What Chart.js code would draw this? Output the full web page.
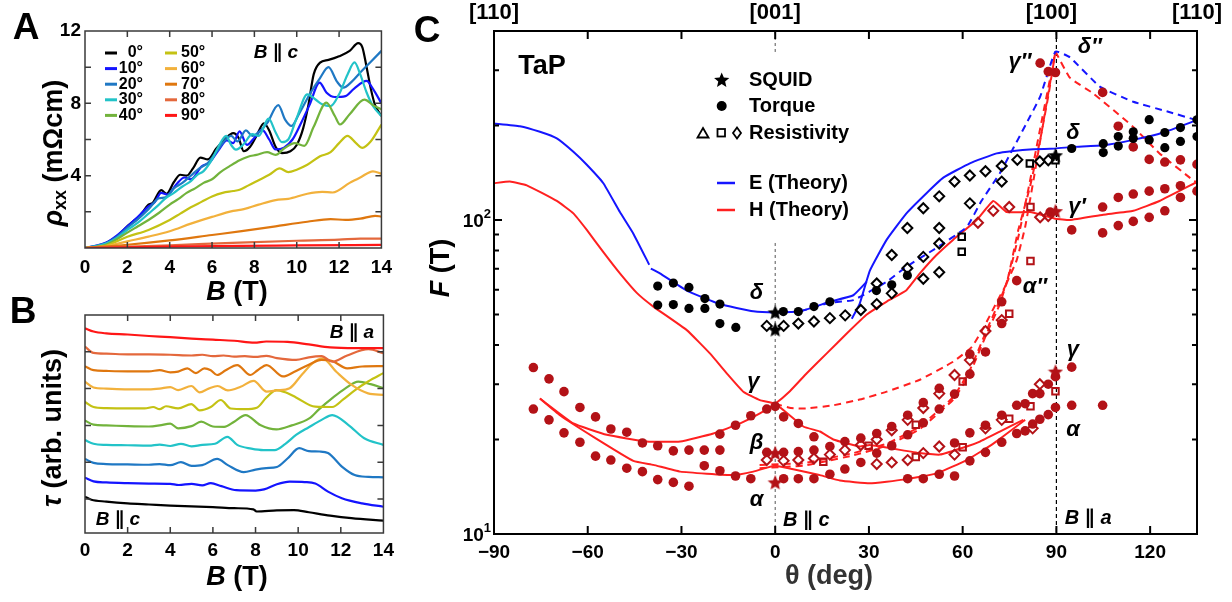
<!DOCTYPE html>
<html>
<head>
<meta charset="utf-8">
<script src="https://cdn.jsdelivr.net/npm/chart.js@4.4.1/dist/chart.umd.min.js"></script>
<style>
  body { margin: 0; background: #fff; width: 1232px; height: 602px; overflow: hidden; position: relative; }
  canvas { position: absolute; }
</style>
</head>
<body>
<canvas id="cA" width="400" height="312" style="left:0;top:0"></canvas>
<canvas id="cB" width="400" height="312" style="left:0;top:290px"></canvas>
<canvas id="cC" width="832" height="602" style="left:400px;top:0"></canvas>
<script>
const FONT = "'Liberation Sans', Arial, 'DejaVu Sans', sans-serif";

// ---------- Panel A : rho_xx (mOhm cm) vs B (T), pairs [B, rho] ----------
const angleLabels = ['0°', '10°', '20°', '30°', '40°', '50°', '60°', '70°', '80°', '90°'];
const angleColours = ['#000000', '#1414ff', '#1f78c4', '#22c3c8', '#72b33c', '#c4c214', '#f2b13c', '#df770f', '#e4683c', '#ff1616'];

const rho0 = [[0,0],[0.5,0.07],[1,0.28],[1.5,0.65],[2,1.2],[2.3,1.5],[2.5,1.65],[2.7,1.95],[3,2.4],[3.2,2.5],[3.6,3.2],[3.85,3.0],[4.2,3.65],[4.5,4.05],[4.8,4.0],[5.1,4.4],[5.45,5.0],[5.8,4.9],[6.2,5.5],[6.6,6.0],[7,6.35],[7.25,6.1],[7.5,5.35],[7.8,5.6],[8.1,6.2],[8.45,6.9],[8.7,6.5],[9,5.6],[9.3,5.25],[9.7,5.35],[10,5.7],[10.3,6.6],[10.55,7.9],[10.8,9.6],[11.1,10.25],[11.5,10.4],[12,10.6],[12.5,10.9],[12.9,11.33],[13.1,11.1],[13.3,10.0],[13.5,8.8],[13.7,7.9],[14,7.3]];
const rho10 = [[0,0],[1,0.3],[1.5,0.68],[2,1.2],[2.5,1.72],[3,2.3],[3.3,2.55],[3.6,3.05],[3.9,2.95],[4.3,3.5],[4.7,3.9],[5,3.8],[5.5,4.5],[5.9,4.75],[6.3,5.4],[6.7,5.95],[7,5.8],[7.3,6.45],[7.65,5.7],[8,6.1],[8.36,6.55],[8.7,6.0],[9,5.45],[9.4,5.55],[9.8,6.0],[10.2,6.9],[10.6,7.9],[11.08,9.15],[11.4,8.6],[11.8,8.35],[12.3,8.4],[12.7,8.8],[13.3,9.24],[13.6,8.8],[14,8.0]];
const rho20 = [[0,0],[1,0.28],[1.5,0.62],[2,1.12],[2.5,1.6],[3,2.15],[3.5,2.75],[3.8,2.8],[4.2,3.3],[4.6,3.6],[5,4.0],[5.4,4.4],[5.8,4.7],[6.2,5.3],[6.6,5.95],[6.9,6.2],[7.2,5.9],[7.6,6.5],[7.9,6.2],[8.3,6.5],[8.6,6.9],[9.13,7.9],[9.45,7.1],[9.75,6.75],[10.1,7.4],[10.66,8.6],[11.1,9.4],[11.5,10.0],[11.9,9.2],[12.2,8.87],[12.6,9.2],[13,9.7],[13.5,10.3],[14,10.9]];
const rho30 = [[0,0],[1,0.25],[1.5,0.55],[2,1.0],[2.5,1.4],[3,1.9],[3.4,2.3],[3.8,2.75],[4.2,3.05],[4.6,3.4],[5,3.7],[5.3,4.05],[5.6,4.25],[6,4.9],[6.3,5.6],[6.67,6.2],[6.9,5.7],[7.13,5.44],[7.5,5.75],[7.9,6.3],[8.2,6.2],[8.67,7.15],[9,6.4],[9.3,5.85],[9.6,6.0],[10,7.2],[10.5,8.5],[10.9,8.2],[11.2,7.95],[11.6,7.85],[12,8.5],[12.4,9.6],[12.73,10.26],[13,9.6],[13.3,8.6],[13.6,7.85],[14,7.3]];
const rho40 = [[0,0],[1,0.18],[2,0.85],[2.5,1.2],[3,1.55],[3.5,1.95],[4,2.4],[4.4,2.7],[4.8,3.05],[5.2,3.3],[5.6,3.6],[6,3.8],[6.4,4.2],[6.8,4.5],[7.3,4.85],[7.7,5.05],[8.1,5.15],[8.6,5.3],[9,5.15],[9.4,5.5],[9.9,5.8],[10.36,5.65],[10.8,6.7],[11.4,8.04],[11.8,7.3],[12.04,6.83],[12.5,7.4],[13.2,8.2],[13.6,7.9],[14,7.67]];
const rho50 = [[0,0],[1,0.13],[2,0.62],[3,1.0],[4,1.55],[4.5,1.9],[5,2.25],[5.5,2.55],[6,2.85],[6.5,3.05],[7,3.15],[7.3,3.22],[7.7,3.45],[8.2,3.75],[8.7,4.05],[9.2,4.4],[9.6,4.2],[10,4.33],[10.5,4.6],[11.1,5.07],[11.6,5.3],[12,5.8],[12.4,6.2],[12.8,5.8],[13.1,5.54],[13.5,5.9],[14,6.83]];
const rho60 = [[0,0],[1,0.1],[2,0.37],[3,0.63],[4,0.93],[5,1.35],[6,1.72],[7,2.05],[7.5,2.15],[8.2,2.4],[9,2.65],[9.6,2.72],[10.5,3.0],[11.2,3.1],[11.7,3.07],[12.5,3.6],[13,3.9],[13.6,4.24],[14,4.1]];
const rho70 = [[0,0],[2,0.18],[4,0.42],[6,0.72],[7.4,0.93],[9,1.2],[10.5,1.45],[11.6,1.6],[12.3,1.55],[13,1.62],[13.7,1.78],[14,1.74]];
const rho80 = [[0,0],[4,0.15],[7.3,0.3],[10,0.4],[12,0.46],[13,0.52],[14,0.52]];
const rho90 = [[0,0],[4,0.08],[7.3,0.12],[10,0.14],[14,0.17]];
const rhoCurves = [rho0, rho10, rho20, rho30, rho40, rho50, rho60, rho70, rho80, rho90];

// ---------- Panel B : torque (offset, arb. units) vs B (T), pairs [B, tau] ----------
const tau0 = [[0,0.06],[0.3,-0.02],[1,-0.07],[2,-0.12],[3,-0.15],[4,-0.18],[5,-0.2],[6,-0.22],[7,-0.25],[7.9,-0.28],[8.05,-0.34],[9,-0.31],[9.8,-0.3],[10.5,-0.36],[11.5,-0.45],[12.5,-0.52],[14,-0.59]];
const tau10 = [[0,0.58],[0.4,0.48],[1,0.45],[2,0.43],[3,0.42],[4,0.41],[4.4,0.38],[5,0.41],[5.5,0.37],[5.9,0.43],[6.4,0.35],[7.1,0.24],[8,0.23],[8.4,0.26],[9,0.4],[9.6,0.47],[10.3,0.46],[10.8,0.42],[11.4,0.2],[12.05,0.02],[13,-0.12],[14,-0.21]];
const tau20 = [[0,1.09],[0.4,0.98],[1,0.95],[2,0.94],[3,0.93],[3.5,0.95],[4,0.92],[4.5,1.0],[5,0.9],[5.5,0.92],[6.2,1.09],[6.7,0.92],[7.45,0.73],[8,0.8],[8.5,0.84],[9,0.87],[9.5,1.1],[10.05,1.38],[10.5,1.3],[11,1.29],[11.4,1.25],[12.05,0.88],[12.65,0.65],[13.3,0.6],[14,0.59]];
const tau30 = [[0,1.6],[0.4,1.5],[1,1.47],[2,1.46],[3,1.45],[3.5,1.48],[4,1.44],[4.5,1.5],[5,1.43],[5.5,1.47],[6.1,1.5],[6.68,1.69],[7.14,1.47],[7.8,1.37],[8.37,1.33],[8.9,1.33],[9.4,1.5],[9.9,1.74],[10.5,1.95],[11.1,2.15],[11.6,2.28],[12.36,2.01],[13.1,1.65],[14,1.47]];
const tau40 = [[0,2.13],[0.4,2.02],[1,2.0],[2,1.98],[3,1.97],[3.5,2.0],[4,2.05],[4.37,1.92],[5,1.98],[5.45,2.1],[6,1.97],[6.53,1.96],[7,2.1],[7.53,2.28],[8.22,2.01],[8.98,1.89],[9.7,2.0],[10.52,2.19],[11,2.45],[11.6,2.74],[12.2,3.0],[12.82,3.19],[13.4,3.12],[14,3.01]];
const tau50 = [[0,2.64],[0.4,2.5],[1,2.47],[2,2.46],[2.8,2.46],[3.2,2.5],[3.5,2.44],[3.8,2.52],[4.37,2.46],[4.99,2.58],[5.38,2.41],[5.9,2.5],[6.37,2.69],[6.83,2.46],[7.5,2.44],[8.06,2.48],[8.5,2.75],[8.98,2.96],[9.4,2.9],[9.9,2.76],[10.8,2.51],[11.6,2.5],[12.1,2.7],[12.67,2.96],[13.3,3.2],[14,3.42]];
const tau60 = [[0,3.19],[0.4,3.03],[1,3.0],[2,2.98],[3,2.98],[3.5,3.0],[4,3.04],[4.37,2.96],[4.99,3.07],[5.38,2.9],[5.8,3.0],[6.22,3.07],[6.7,2.95],[7.3,3.05],[7.91,3.21],[8.52,2.92],[9,2.95],[9.6,3.01],[10.2,3.4],[10.7,3.7],[11.13,3.82],[11.8,3.45],[12.51,3.1],[13.28,2.87],[14,2.83]];
const tau70 = [[0,3.61],[0.4,3.5],[1,3.48],[2,3.47],[3,3.47],[3.5,3.5],[4,3.44],[4.37,3.46],[4.8,3.55],[5.2,3.42],[5.6,3.55],[5.9,3.5],[6.2,3.37],[6.6,3.5],[7.14,3.64],[7.75,3.37],[8.1,3.5],[8.52,3.64],[9.29,3.33],[9.8,3.45],[10.5,3.65],[11.1,3.78],[11.6,3.75],[12.3,3.55],[13,3.6],[14,3.61]];
const tau80 = [[0,4.14],[0.4,3.97],[1,3.95],[2,3.93],[3,3.93],[4,3.92],[5,3.9],[5.5,3.92],[6,3.88],[6.5,3.9],[7,3.87],[7.5,3.88],[8,3.86],[8.5,3.89],[9,3.83],[9.9,3.78],[10.5,3.85],[11.1,3.88],[11.6,3.73],[12.3,3.9],[13.3,4.07],[14,3.96]];
const tau90 = [[0,4.64],[0.4,4.55],[1,4.5],[2,4.47],[3,4.43],[4,4.4],[5,4.36],[6,4.33],[7,4.3],[7.95,4.25],[8.5,4.28],[9.5,4.27],[10.5,4.2],[11.5,4.12],[12.7,4.1],[14,4.1]];
const tauCurves = [tau0, tau10, tau20, tau30, tau40, tau50, tau60, tau70, tau80, tau90];

// ---------- Panel C : F (T) vs theta (deg), pairs [theta, F] ----------
const eTheoryA = [[-90,203],[-81.7,199],[-75.3,191],[-69.9,182],[-64.6,165],[-60.3,150],[-55,131],[-49.7,106],[-45.4,90.5],[-40.3,72]];
const eTheoryB = [[-39.8,70],[-36.9,67.6],[-28.3,59.6],[-17.7,54],[-7,51.2],[0,50.8],[8,51.2],[17.5,54.9],[25,57.6],[29.3,63.6]];
const eTheoryC = [[24.5,48.5],[27,54],[30.3,69],[35.7,86.6],[42,105],[48.5,122],[53.8,136.5],[62.3,151.6],[70.9,163],[76.2,166],[82.6,168],[89.7,169],[95.4,171],[105,173],[114.6,180],[124.2,190],[134.9,208]];
const eTheoryDash = [[8,51.2],[17.5,54.5],[25,55.6],[35.7,63.6],[42,71],[51.7,81.6],[61.3,95],[66,115],[71.9,141],[80.5,204],[84.8,247],[89.7,344],[94.3,330],[103.9,266],[114.6,238],[125.3,222],[134.9,208]];
const hTheoryA = [[-90,131],[-84.9,132.6],[-79.5,129],[-69.9,115],[-64.6,105],[-60.3,93],[-55,79],[-49.7,67.6],[-44.3,58.6],[-39,53],[-28.3,44.6],[-20.9,37.6],[-15.5,32.5],[-10.2,28.4],[-4.9,26.7],[0,26],[9,22],[14.3,21.2],[18.6,20],[27,19],[30.3,19.2],[46.3,18.1],[52.7,17.9],[61.3,19],[65.5,19.7],[71.9,21.2],[79.4,23.1]];
const hTheoryB = [[-75.3,27],[-64.6,22.5],[-53.9,20.7],[-41.1,19.7],[-30.4,19.7],[-19.8,20.9],[-11.2,22.5],[-4.9,24.2],[0,26],[4.7,28.5],[10.1,32.5],[16.5,37.6],[22.9,43.5],[29.3,50],[35.7,55],[42,59.8],[46.3,67.6],[51.7,77.5],[57,86.6],[64.5,100],[69.8,115],[74.1,106],[81.5,106],[89.7,101],[94.3,100],[105,104],[114.6,107],[123,115],[134.9,132]];
const hTheoryC = [[-75.3,27],[-68.9,23.9],[-58.2,20.4],[-45.4,17.1],[-39,16.6],[-30.4,15.8],[-13.4,15.4],[-7,15.8],[0,16.5],[14.3,15.4],[20.7,14.8],[30.3,14.5],[41,14.9],[51.7,15.6],[61.3,17.2],[69.8,19.4],[80,23.1]];
const hTheoryDash1 = [[0,26],[5,25.2],[10,25.1],[18.6,25.7],[27,26.8],[35.7,28.4],[46.3,31],[57,35.4],[63,39.5],[67,46],[71,55],[74.1,63],[77.8,93],[81.5,127],[84.8,180],[87.4,248],[89.7,344]];
const hTheoryDash2 = [[-5,16.6],[9,16.8],[14.3,17.2],[25,18.1],[35.7,19.4],[46.3,22],[57,27.3],[62.3,33.3],[67.7,44.6],[71.9,55.6],[74.1,63],[77.3,74.5],[80,95],[83,140],[86,210],[89.7,344]];
const hTheoryDash3 = [[-5,16.2],[9,16.5],[14.3,16.9],[25,17.8],[35.7,19.1],[46.3,21.6],[57,26.8],[62.3,32.5],[67.7,43.5],[71.9,54],[75,68],[78,90],[81,125],[85,200],[89.7,344]];
const hTheoryDashR = [[89.7,344],[94.3,284],[101.8,253],[114.6,198],[123,163],[133.7,134],[134.9,132]];

const squidBlack = [[0,50.8],[0,44.8],[89.7,160.8]];
const squidRed = [[0,18.1],[0,14.6],[89.7,106.7],[89.7,32.9]];
const torqueBlack = [[-37.6,61.6],[-32.6,63],[-27.6,61],[-22.5,56.2],[-17.7,54],[-37.6,53.6],[-32.6,53.8],[-27.6,52.3],[-22.5,52.3],[-17.7,46.8],[-12.6,45.5],[2.6,51.1],[7.4,51.1],[12.4,53],[17.5,54.9],[32.4,59.6],[37.3,62.2],[42.3,66.6],[94.9,169],[105,175],[105,164],[109.8,184.5],[109.8,172],[114.6,191],[114.6,182],[119.7,208.7],[119.7,180],[124.7,190],[124.7,170],[129.7,197],[129.7,178],[135,208.6],[135,184.5]];
const torqueRed = [[-77.4,33.9],[-72.4,31.2],[-67.6,28.4],[-62.5,25.3],[-57.5,23.6],[-52.6,21.6],[-47.5,21.1],[-42.5,19.5],[-37.6,19.1],[-32.6,18.4],[-27.6,18.5],[-22.7,18.5],[-17.7,18.5],[-17.7,20.8],[-12.7,22.2],[-7.8,23.8],[-2.7,25],[0,25.5],
  [-77.4,25],[-72.4,23.1],[-67.6,21],[-62.5,19.6],[-57.5,17.7],[-52.6,17.2],[-47.5,16.2],[-42.5,15.8],[-37.6,14.9],[-32.6,14.6],[-27.6,14.2],[-22.7,16.5],[-17.7,15.9],[-12.7,15.3],[-7.8,15],[2.7,15],[7.4,15],[12.4,15],
  [-2.7,18.2],[2.7,18.2],[7.4,18.3],[12.4,18.5],[2.7,23.6],[7.4,22.5],[12.4,20.4],
  [17.5,19],[17.5,15.5],[22.3,19.7],[22.3,16.1],[27.4,20.2],[27.4,16.9],[32.5,20.9],[32.5,18.1],[37.3,22],[37.3,19.1],[42.4,23.9],[42.4,20.7],[42.4,15],[47.4,26.2],[47.4,22.6],[47.4,15],[52.5,29.1],[52.5,25],[52.5,15.5],[57.4,27.9],[57.4,19.5],[57.4,15.3],[62.3,37.4],[62.3,32.3],[62.3,21],[62.3,17.1],[67.3,38],[67.3,22.2],[67.3,18.2],[72.5,46.8],[72.5,54.9],[72.5,23.9],[72.5,19.6],[77.3,25.7],[77.3,20.9],[77.3,64.1],[80,26],[80,21.3],[82.4,28],[82.4,22.4],[84.7,28],[84.7,23.2],[87.4,30],[87.4,24],[89.7,31.7],[89.7,25.3],[94.9,34],[94.9,25.7],[104.8,25.7],
  [84.8,316],[87.4,297],[89.7,295],[104.8,255],[109.8,199],[114.6,171],[119.7,156],[124.7,153],[129.7,155.5],[135,150.4],
  [94.9,93],[104.8,110],[104.8,91],[109.8,118],[109.8,96],[114.6,121],[114.6,99],[119.7,123.6],[119.7,102],[124.7,125.8],[124.7,107],[129.7,128.6],[129.7,118],[135,123.6],[88,106]];
const resistBlackDiamond = [[-2.7,46],[2.7,46],[7.4,46.8],[12.4,47.5],[17.5,48.7],[22.4,49.7],[27.4,51.7],[32.5,62.8],[32.5,54],[37.3,58.4],[37.3,77.4],[42.3,70.2],[42.3,94.3],[47.4,76.3],[47.4,65],[47.4,109],[52.5,94.3],[52.5,84.2],[52.5,68.2],[52.5,119],[57.4,132.6],[62.3,138.6],[62.3,113],[67.3,143],[72.5,148.6],[72.5,132.6],[77.5,155.5],[84.7,153.7],[87.4,155]];
const resistBlackSquare = [[81.5,151.5],[89.7,155],[59.7,88.4],[59.7,79.3]];
const resistRedDiamond = [[-2.7,17.2],[2.7,17.1],[7.4,17.2],[12.4,17.4],[17.5,17.9],[22.3,18.5],[27.4,19.2],[32.5,20],[37.3,21.4],[42.4,23.1],[47.4,25.2],[52.5,28],[57.4,32.1],[62.3,35.8],[67.3,44.3],[72.5,48],[32.5,16.7],[37.3,16.9],[42.4,17.2],[47.4,18.1],[52.5,19],[57.4,17.9],[67.3,21.7],[72.5,23.1],[82.4,21.7],[84.7,30],[64.9,98],[69.8,107],[74.9,110],[84.8,102],[87.4,103]];
const resistRedSquare = [[15.4,17],[29.9,19.1],[45,22.3],[45,17.6],[60,30.6],[60,18.9],[74.9,50.3],[74.9,23.3],[81.7,25.5],[81.7,74],[81.7,110],[89.7,28.5]];

const axisC = [400, 343, null, 84.5, 10];   // dashed [001] guide, broken behind legend
const axisA = [400, 10];                    // dashed [100] guide
const topDirs = ['[110]', '[001]', '[100]', '[110]'];
const topDirAngles = [-90, 0, 90, 135];
const branchNames = ['δ', 'γ', 'β', 'α', 'γ″', 'δ″', 'δ', 'γ′', 'α″', 'γ', 'α'];
const branchAngles = [-6, -7, -6, -6, 78.3, 100.7, 95.3, 96.6, 83.1, 95.3, 95.3];
const branchFreqs = [58.5, 30.5, 19.5, 12.8, 318, 355, 189, 110, 61.2, 38.5, 21.4];

// ---------- helpers ----------
const toPts = arr => arr.map(p => ({ x: p[0], y: p[1] }));
const f = (size, style = '') => `${style} bold ${size}px ${FONT}`.trim();

function rich(ctx, parts, x, y, align) {
  let w = 0;
  parts.forEach(p => { ctx.font = p.f; p.w = ctx.measureText(p.t).width; w += p.w; });
  let cx = align === 'center' ? x - w / 2 : align === 'right' ? x - w : x;
  ctx.textAlign = 'left';
  ctx.textBaseline = 'middle';
  parts.forEach(p => {
    ctx.font = p.f;
    ctx.fillStyle = p.c || '#000';
    ctx.fillText(p.t, cx, y + (p.dy || 0));
    cx += p.w;
  });
}

function rotated(ctx, x, y, fn) {
  ctx.save();
  ctx.translate(x, y);
  ctx.rotate(-Math.PI / 2);
  fn();
  ctx.restore();
}

// box plus inward ticks on all four sides
function frame(chart, o) {
  const { ctx, chartArea: a, scales } = chart;
  ctx.save();
  ctx.strokeStyle = o.color;
  ctx.lineWidth = o.lw;
  ctx.beginPath();
  o.x.forEach(v => {
    const p = scales.x.getPixelForValue(v);
    ctx.moveTo(p, a.bottom); ctx.lineTo(p, a.bottom - o.len);
    ctx.moveTo(p, a.top); ctx.lineTo(p, a.top + o.len);
  });
  o.y.forEach(v => {
    const p = scales.y.getPixelForValue(v);
    ctx.moveTo(a.left, p); ctx.lineTo(a.left + o.len, p);
    ctx.moveTo(a.right, p); ctx.lineTo(a.right - o.len, p);
  });
  (o.yMinor || []).forEach(v => {
    const p = scales.y.getPixelForValue(v);
    ctx.moveTo(a.left, p); ctx.lineTo(a.left + o.minor, p);
    ctx.moveTo(a.right, p); ctx.lineTo(a.right - o.minor, p);
  });
  ctx.stroke();
  ctx.strokeRect(a.left, a.top, a.right - a.left, a.bottom - a.top);
  ctx.restore();
}

function starPath(ctx, cx, cy, R) {
  ctx.beginPath();
  for (let i = 0; i < 10; i++) {
    const ang = -Math.PI / 2 + i * Math.PI / 5;
    const r = i % 2 ? R * 0.45 : R;
    ctx.lineTo(cx + r * Math.cos(ang), cy + r * Math.sin(ang));
  }
  ctx.closePath();
}

function starImg(colour) {
  const c = document.createElement('canvas');
  c.width = c.height = 16;
  const g = c.getContext('2d');
  g.fillStyle = colour;
  starPath(g, 8, 8.6, 8);
  g.fill();
  return c;
}

const tickFont = { family: FONT, size: 19, weight: 'bold' };
const baseOptions = (padding, xH, yW) => ({
  responsive: false,
  animation: false,
  events: [],
  layout: { padding },
  plugins: { legend: { display: false }, tooltip: { enabled: false } },
  scales: {
    x: {
      type: 'linear',
      afterFit: s => { s.height = xH; },
      grid: { display: false, drawTicks: false },
      border: { display: false },
      ticks: { color: '#000', font: tickFont, autoSkip: false, maxRotation: 0 }
    },
    y: {
      type: 'linear',
      afterFit: s => { s.width = yW; },
      grid: { display: false, drawTicks: false },
      border: { display: false },
      ticks: { color: '#000', font: tickFont }
    }
  }
});

const curveSet = curves => curves.map((c, i) => ({
  data: toPts(c),
  showLine: true,
  borderColor: angleColours[i],
  borderWidth: 2.2,
  pointRadius: 0,
  fill: false,
  cubicInterpolationMode: 'monotone'
})).reverse();

// ---------- Chart A ----------
const optA = baseOptions({ left: 0, top: 31, right: 11, bottom: 0 }, 64, 85);
Object.assign(optA.scales.x, { min: 0, max: 14 });
Object.assign(optA.scales.x.ticks, { stepSize: 2, padding: 8 });
Object.assign(optA.scales.y, { min: 0, max: 12 });
Object.assign(optA.scales.y.ticks, { stepSize: 4, padding: 4, callback: v => (v === 0 ? '' : v) });

new Chart(document.getElementById('cA'), {
  type: 'scatter',
  data: { datasets: curveSet(rhoCurves) },
  options: optA,
  plugins: [{
    id: 'decorA',
    afterDraw(chart) {
      const ctx = chart.ctx;
      frame(chart, { x: [2, 4, 6, 8, 10, 12], y: [2, 4, 6, 8, 10], len: 6, color: '#3a3a3a', lw: 1.5 });
      // legend, two columns
      angleLabels.forEach((lab, i) => {
        const col = i < 5 ? 0 : 1;
        const y = 53 + (i % 5) * 15.6;
        const x0 = col ? 165 : 105;
        ctx.strokeStyle = angleColours[i];
        ctx.lineWidth = 3;
        ctx.beginPath(); ctx.moveTo(x0, y); ctx.lineTo(x0 + 12, y); ctx.stroke();
        ctx.font = f(16); ctx.fillStyle = '#000'; ctx.textBaseline = 'middle';
        ctx.textAlign = col ? 'left' : 'right';
        ctx.fillText(lab, col ? 181 : 143, y);
      });
      rich(ctx, [{ t: 'B', f: f(19, 'italic') }, { t: ' \u2225 ', f: f(19) }, { t: 'c', f: f(19, 'italic') }], 276, 53, 'center');
      ctx.font = f(37); ctx.fillStyle = '#000'; ctx.textAlign = 'center'; ctx.textBaseline = 'middle';
      ctx.fillText('A', 26, 29);
      rich(ctx, [{ t: 'B', f: f(27, 'italic') }, { t: ' (T)', f: f(27) }], 237, 293, 'center');
      rotated(ctx, 55, 153, () => {
        rich(ctx, [{ t: 'ρ', f: f(27, 'italic') }, { t: 'xx', f: f(18), dy: 6 }, { t: ' (mΩcm)', f: f(27) }], 0, 0, 'center');
      });
    }
  }]
});

// ---------- Chart B ----------
const optB = baseOptions({ left: 0, top: 25, right: 11, bottom: 0 }, 69, 85);
Object.assign(optB.scales.x, { min: 0, max: 14 });
Object.assign(optB.scales.x.ticks, { stepSize: 2, padding: 6 });
Object.assign(optB.scales.y, { min: -0.924, max: 5 });
optB.scales.y.ticks.display = false;

new Chart(document.getElementById('cB'), {
  type: 'scatter',
  data: { datasets: curveSet(tauCurves) },
  options: optB,
  plugins: [{
    id: 'decorB',
    afterDraw(chart) {
      const ctx = chart.ctx;
      frame(chart, { x: [2, 4, 6, 8, 10, 12], y: [0, 1, 2, 3, 4], len: 6, color: '#3a3a3a', lw: 1.5 });
      rich(ctx, [{ t: 'B', f: f(19, 'italic') }, { t: ' \u2225 ', f: f(19) }, { t: 'a', f: f(19, 'italic') }], 352, 43, 'center');
      rich(ctx, [{ t: 'B', f: f(19, 'italic') }, { t: ' \u2225 ', f: f(19) }, { t: 'c', f: f(19, 'italic') }], 118, 230, 'center');
      ctx.font = f(37); ctx.fillStyle = '#000'; ctx.textAlign = 'center'; ctx.textBaseline = 'middle';
      ctx.fillText('B', 23, 23);
      rich(ctx, [{ t: 'B', f: f(27, 'italic') }, { t: ' (T)', f: f(27) }], 237, 288, 'center');
      rotated(ctx, 54, 138, () => {
        rich(ctx, [{ t: 'τ', f: f(27, 'italic') }, { t: ' (arb. units)', f: f(27) }], 0, 0, 'center');
      });
    }
  }]
});

// ---------- Chart C ----------
const DARKRED = '#b31217';
const BLUE = '#1515ff';
const RED = '#ff2020';
const lineDs = (data, colour, dash) => ({
  data: toPts(data), showLine: true, borderColor: colour, borderWidth: 2,
  borderDash: dash || [], pointRadius: 0, fill: false, tension: 0.12
});
const markDs = (data, colour, style, radius, open) => ({
  data: toPts(data), showLine: false, pointStyle: style, pointRadius: radius,
  backgroundColor: open ? 'rgba(255,255,255,0)' : colour, borderColor: colour,
  pointBackgroundColor: open ? 'rgba(255,255,255,0)' : colour, pointBorderColor: colour,
  pointBorderWidth: open ? 2 : 0, borderWidth: open ? 2 : 0
});

const optC = baseOptions({ left: 0, top: 31, right: 35, bottom: 0 }, 68, 94);
Object.assign(optC.scales.x, { min: -90, max: 135 });
Object.assign(optC.scales.x.ticks, { stepSize: 30, padding: 7, includeBounds: false,
  callback: v => (v === 135 ? '' : String(v).replace('-', '\u2212')) });
Object.assign(optC.scales.y, { type: 'logarithmic', min: 10, max: 400 });
optC.scales.y.ticks.display = false;

new Chart(document.getElementById('cC'), {
  type: 'scatter',
  data: {
    datasets: [
      markDs(squidBlack, '#000', starImg('#000'), 7, false),
      markDs(squidRed, DARKRED, starImg(DARKRED), 7, false),
      markDs(resistBlackDiamond, '#000', 'rectRot', 5, true),
      markDs(resistBlackSquare, '#000', 'rect', 4.6, true),
      markDs(resistRedDiamond, DARKRED, 'rectRot', 5, true),
      markDs(resistRedSquare, DARKRED, 'rect', 4.6, true),
      markDs(torqueBlack, '#000', 'circle', 4.6, false),
      markDs(torqueRed, DARKRED, 'circle', 4.8, false),
      lineDs(eTheoryA, BLUE),
      lineDs(eTheoryB, BLUE),
      lineDs(eTheoryC, BLUE),
      lineDs(eTheoryDash, BLUE, [7, 5]),
      lineDs(hTheoryA, RED),
      lineDs(hTheoryB, RED),
      lineDs(hTheoryC, RED),
      lineDs(hTheoryDash1, RED, [7, 5]),
      lineDs(hTheoryDash2, RED, [7, 5]),
      lineDs(hTheoryDash3, RED, [7, 5]),
      lineDs(hTheoryDashR, RED, [7, 5]),
      { data: axisC.map(v => ({ x: 0, y: v })), showLine: true, borderColor: '#555', borderWidth: 1,
        borderDash: [3, 3], pointRadius: 0, spanGaps: false },
      { data: axisA.map(v => ({ x: 90, y: v })), showLine: true, borderColor: '#000', borderWidth: 1.2,
        borderDash: [4, 3], pointRadius: 0 }
    ]
  },
  options: optC,
  plugins: [{
    id: 'decorC',
    afterDraw(chart) {
      const ctx = chart.ctx;
      const a = chart.chartArea, sx = chart.scales.x, sy = chart.scales.y;
      frame(chart, { x: [-60, -30, 0, 30, 60, 90, 120], y: [100], yMinor: [20, 30, 40, 50, 60, 70, 80, 90, 200, 300], len: 8, minor: 5, color: '#000', lw: 2 });
      // decade labels
      rich(ctx, [{ t: '10', f: f(19) }, { t: '2', f: f(13), dy: -8 }], a.left - 3, sy.getPixelForValue(100) + 2, 'right');
      rich(ctx, [{ t: '10', f: f(19) }, { t: '1', f: f(13), dy: -8 }], a.left - 3, sy.getPixelForValue(10) + 2, 'right');
      // crystal directions on top
      ctx.fillStyle = '#000'; ctx.textAlign = 'center'; ctx.textBaseline = 'middle'; ctx.font = f(22);
      topDirs.forEach((t, i) => ctx.fillText(t, sx.getPixelForValue(topDirAngles[i]) - (i === 2 ? 5 : 0), 13));
      // branch labels
      ctx.font = f(22, 'italic');
      branchNames.forEach((t, i) => ctx.fillText(t, sx.getPixelForValue(branchAngles[i]), sy.getPixelForValue(branchFreqs[i])));
      rich(ctx, [{ t: 'B', f: f(20, 'italic') }, { t: ' \u2225 ', f: f(20) }, { t: 'c', f: f(20, 'italic') }], sx.getPixelForValue(2.5), 520, 'left');
      rich(ctx, [{ t: 'B', f: f(20, 'italic') }, { t: ' \u2225 ', f: f(20) }, { t: 'a', f: f(20, 'italic') }], sx.getPixelForValue(92.7), 518, 'left');
      // legend
      ctx.fillStyle = '#000';
      starPath(ctx, 321.7, 80.5, 8); ctx.fill();
      ctx.beginPath(); ctx.arc(321.7, 106, 5, 0, Math.PI * 2); ctx.fill();
      ctx.strokeStyle = '#000'; ctx.lineWidth = 1.8;
      ctx.beginPath(); ctx.moveTo(303, 128); ctx.lineTo(308.5, 137.5); ctx.lineTo(297.5, 137.5); ctx.closePath(); ctx.stroke();
      ctx.strokeRect(317.5, 129, 7.5, 7.5);
      ctx.beginPath(); ctx.moveTo(337, 127.5); ctx.lineTo(341, 133); ctx.lineTo(337, 138.5); ctx.lineTo(333, 133); ctx.closePath(); ctx.stroke();
      ctx.lineWidth = 2.5;
      ctx.strokeStyle = BLUE; ctx.beginPath(); ctx.moveTo(317, 183); ctx.lineTo(335, 183); ctx.stroke();
      ctx.strokeStyle = RED; ctx.beginPath(); ctx.moveTo(317, 210); ctx.lineTo(335, 210); ctx.stroke();
      ctx.font = f(20); ctx.textAlign = 'left'; ctx.textBaseline = 'middle'; ctx.fillStyle = '#000';
      ctx.fillText('SQUID', 349, 80);
      ctx.fillText('Torque', 349, 106);
      ctx.fillText('Resistivity', 349, 133);
      ctx.fillText('E (Theory)', 349, 183);
      ctx.fillText('H (Theory)', 349, 210);
      ctx.font = f(27); ctx.textAlign = 'center';
      ctx.fillText('TaP', 142, 67);
      ctx.font = f(37);
      ctx.fillText('C', 27, 32);
      rich(ctx, [{ t: 'θ (deg)', f: f(27), c: '#333' }], 429, 577, 'center');
      rotated(ctx, 42, 268, () => {
        rich(ctx, [{ t: 'F', f: f(27, 'italic') }, { t: ' (T)', f: f(27) }], 0, 0, 'center');
      });
    }
  }]
});
</script>
</body>
</html>
